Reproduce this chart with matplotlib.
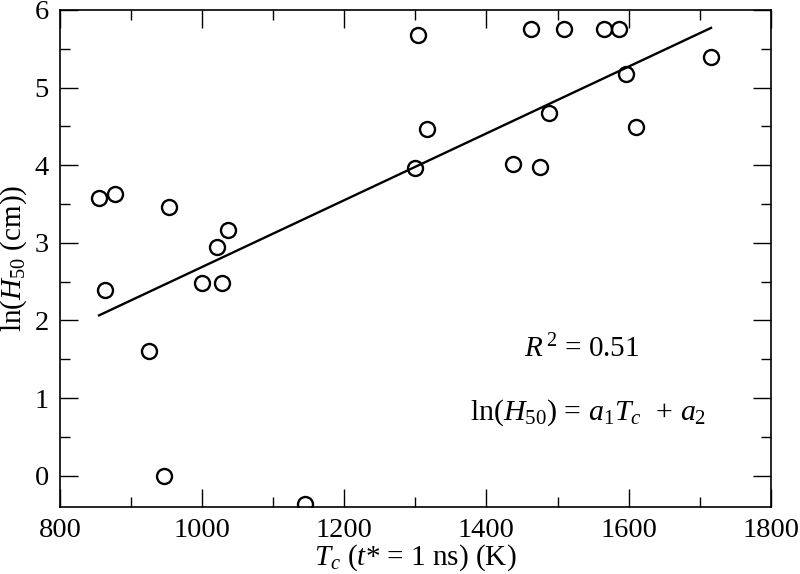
import matplotlib
matplotlib.use("Agg")
import matplotlib.pyplot as plt
from matplotlib.ticker import MultipleLocator

plt.rcParams['font.family'] = ['Liberation Serif', 'DejaVu Serif']
plt.rcParams['mathtext.fontset'] = 'custom'
plt.rcParams['mathtext.rm'] = 'Liberation Serif'
plt.rcParams['mathtext.it'] = 'Liberation Serif:italic'
plt.rcParams['mathtext.bf'] = 'Liberation Serif:bold'

# Data
tc = [855, 877, 953, 863, 925, 947, 1000, 1021, 1028, 1036, 1145, 1300,
      1304, 1317, 1438, 1463, 1476, 1488, 1509, 1566, 1587, 1597, 1610, 1716]
ln_h50 = [3.58, 3.63, 3.46, 2.39, 1.60, 0.00, 2.48, 2.94, 2.48, 3.17, -0.36, 3.97,
          5.68, 4.47, 4.02, 5.76, 3.98, 4.67, 5.76, 5.76, 5.76, 5.18, 4.49, 5.39]

# Fit line coefficients (ln(H50) = a1*Tc + a2)
a1 = 0.004302
a2 = -1.613

fig = plt.figure(figsize=(8.0, 5.74), dpi=100)
ax = fig.add_axes([0.075, 0.1173, 0.8884, 0.8653])

ax.plot(tc, ln_h50, linestyle='none', marker='o', markersize=10.8,
        markerfacecolor='none', markeredgecolor='black', markeredgewidth=1.7)
xfit = [min(tc), max(tc)]
yfit = [a1 * x + a2 for x in xfit]
ax.plot(xfit, yfit, color='black', linewidth=1.7)

ax.set_xlim(800, 1800)
ax.set_ylim(-0.4, 6)
ax.xaxis.set_major_locator(MultipleLocator(200))
ax.xaxis.set_minor_locator(MultipleLocator(100))
ax.yaxis.set_major_locator(MultipleLocator(1))
ax.yaxis.set_minor_locator(MultipleLocator(0.5))
ax.tick_params(which='both', direction='in', top=True, right=True,
               labelsize=20.5, width=1.0, pad=8)
ax.tick_params(which='major', length=13)
ax.tick_params(which='minor', length=7)
for s in ax.spines.values():
    s.set_linewidth(1.2)

ax.set_xlabel(r'$T_c$ ($t$* = 1 ns) (K)', fontsize=21, labelpad=0)
ax.set_ylabel(r'ln($H_{50}$ (cm))', fontsize=21, labelpad=4)

ax.text(1534, 1.53, r'$R^{\,2}$ = 0.51', fontsize=21, ha='center', va='baseline')
ax.text(1543, 0.72, r'ln($H_{50}$) = $a_1T_c$  + $a_2$', fontsize=21.5,
        ha='center', va='baseline')

fig.savefig('out.png', dpi=100)
